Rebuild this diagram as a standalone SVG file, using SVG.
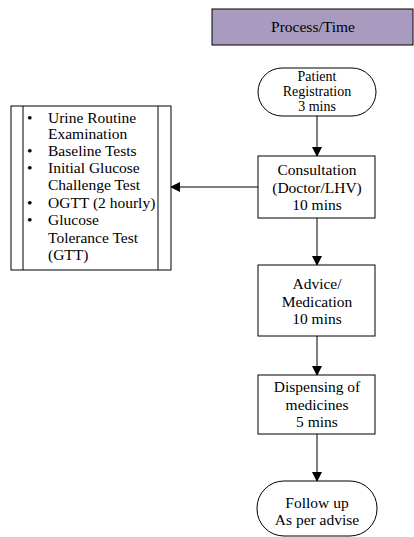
<svg xmlns="http://www.w3.org/2000/svg" width="414" height="537" viewBox="0 0 414 537">
<style>
text{font-family:"Liberation Serif","DejaVu Serif",serif;font-size:15.5px;fill:#000}
.c{text-anchor:middle}
.s{font-size:14px}
.box{fill:#fff;stroke:#000;stroke-width:1}
.conn{stroke:#555;stroke-width:1.5;fill:none}
</style>
<defs>
<marker id="ah" markerWidth="10" markerHeight="10" refX="9" refY="5" orient="auto" markerUnits="userSpaceOnUse">
<path d="M0,0 L10,5 L0,10 Z" fill="#000"/>
</marker>
</defs>
<rect width="414" height="537" fill="#fff"/>
<g id="header">
<rect x="212" y="9" width="201" height="36" fill="#a99bc0" stroke="#000" stroke-width="1"/>
<text class="c" x="313" y="32">Process/Time</text>
</g>
<g id="connectors">
<line class="conn" x1="317" y1="116" x2="317" y2="156" marker-end="url(#ah)"/>
<line class="conn" x1="258" y1="187" x2="171" y2="187" marker-end="url(#ah)"/>
<line class="conn" x1="317" y1="218" x2="317" y2="265" marker-end="url(#ah)"/>
<line class="conn" x1="317" y1="336" x2="317" y2="375" marker-end="url(#ah)"/>
<line class="conn" x1="317" y1="434" x2="317" y2="481" marker-end="url(#ah)"/>
</g>
<g id="registration">
<rect class="box" x="258" y="68" width="118" height="48" rx="24" ry="24"/>
<text class="c s" x="317" y="81">Patient</text>
<text class="c s" x="317" y="96">Registration</text>
<text class="c s" x="317" y="111">3 mins</text>
</g>
<g id="tests">
<rect class="box" x="11" y="106" width="160" height="164"/>
<line x1="23" y1="106" x2="23" y2="270" stroke="#000"/>
<line x1="158" y1="106" x2="158" y2="270" stroke="#000"/>
<text x="27" y="123">•</text><text x="48" y="123">Urine Routine</text>
<text x="48" y="139">Examination</text>
<text x="27" y="156">•</text><text x="48" y="156">Baseline Tests</text>
<text x="27" y="173">•</text><text x="48" y="173">Initial Glucose</text>
<text x="48" y="190">Challenge Test</text>
<text x="27" y="208">•</text><text x="48" y="208">OGTT (2 hourly)</text>
<text x="27" y="225">•</text><text x="48" y="225">Glucose</text>
<text x="48" y="243">Tolerance Test</text>
<text x="48" y="260">(GTT)</text>
</g>
<g id="consultation">
<rect class="box" x="258" y="156" width="117" height="62"/>
<text class="c" x="317" y="175">Consultation</text>
<text class="c" x="317" y="193">(Doctor/LHV)</text>
<text class="c" x="317" y="210">10 mins</text>
</g>
<g id="advice">
<rect class="box" x="258" y="265" width="117" height="71"/>
<text class="c" x="317" y="289">Advice/</text>
<text class="c" x="317" y="307">Medication</text>
<text class="c" x="317" y="324">10 mins</text>
</g>
<g id="dispensing">
<rect class="box" x="258" y="375" width="117" height="59"/>
<text class="c" x="317" y="392">Dispensing of</text>
<text class="c" x="317" y="410">medicines</text>
<text class="c" x="317" y="427">5 mins</text>
</g>
<g id="followup">
<rect class="box" x="257" y="481" width="120" height="55" rx="27" ry="27"/>
<text class="c" x="317" y="508">Follow up</text>
<text class="c" x="317" y="525">As per advise</text>
</g>
</svg>
